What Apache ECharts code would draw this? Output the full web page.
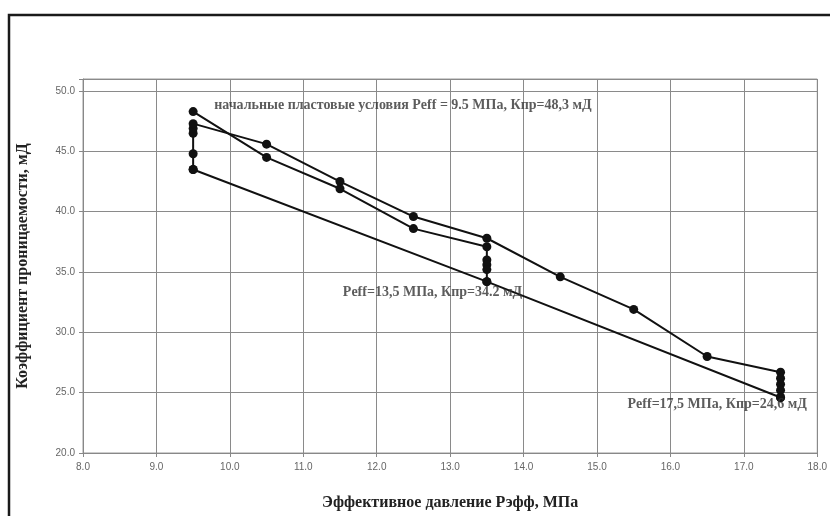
<!DOCTYPE html>
<html>
<head>
<meta charset="utf-8">
<script src="https://cdn.jsdelivr.net/npm/echarts@6/dist/echarts.min.js"></script>
<style>
  html, body { margin: 0; padding: 0; background: #fff; }
  #chart { width: 830px; height: 516px; }
</style>
</head>
<body>
<div id="chart"></div>
<script>
// Эффективное давление, МПа и проницаемость, мД по ветвям испытания
const pressureLoad1 = [9.5, 10.5, 11.5, 12.5, 13.5, 13.5, 13.5, 13.5, 13.5];
const permLoad1     = [48.3, 44.5, 41.9, 38.6, 37.1, 36.0, 35.6, 35.2, 34.2];

const pressureLoad2 = [9.5, 9.5, 9.5, 9.5, 9.5, 10.5, 11.5, 12.5, 13.5, 14.5, 15.5, 16.5, 17.5, 17.5, 17.5, 17.5, 17.5];
const permLoad2     = [43.5, 44.8, 46.5, 46.9, 47.3, 45.6, 42.5, 39.6, 37.8, 34.6, 31.9, 28.0, 26.7, 26.2, 25.7, 25.2, 24.6];

const pressureUnload = [17.5, 13.5, 9.5];
const permUnload     = [24.6, 34.2, 43.5];

// Подписи характерных точек
const notePressure = [9.5, 13.5, 17.5];
const notePerm     = [48.3, 34.2, 24.6];
const noteText = [
  'начальные пластовые условия Peff = 9.5 МПа, Кпр=48,3 мД',
  'Peff=13,5 МПа, Кпр=34.2 мД',
  'Peff=17,5 МПа, Кпр=24,6 мД'
];
const noteOffset = [[21, -6], [-144, 11], [-153, 7]];

const xTicks = { min: 8, max: 18, step: 1 };
const yTicks = { min: 20, max: 51, step: 5 };

const pairs = (xs, ys) => xs.map((x, i) => [x, ys[i]]);

const serif = '"Liberation Serif", "Times New Roman", serif';
const sans = '"Liberation Sans", Arial, sans-serif';

const lineSeries = (name, xs, ys) => ({
  name,
  type: 'line',
  data: pairs(xs, ys),
  symbol: 'circle',
  symbolSize: 9,
  lineStyle: { color: '#111', width: 2 },
  itemStyle: { color: '#111' },
  animation: false,
  z: 3
});

const chart = echarts.init(document.getElementById('chart'), null, { renderer: 'canvas' });

chart.setOption({
  backgroundColor: '#fff',
  animation: false,
  grid: { left: 83, right: 10, top: 79, bottom: 63, show: true, borderColor: '#9a9a9a', borderWidth: 1, backgroundColor: '#fff' },
  graphic: [{
    type: 'rect',
    shape: { x: 9, y: 15, width: 900, height: 600 },
    style: { fill: 'none', stroke: '#1a1a1a', lineWidth: 2.5 },
    silent: true,
    z: 10
  }],
  xAxis: {
    type: 'value',
    min: xTicks.min, max: xTicks.max, interval: xTicks.step,
    name: 'Эффективное давление Рэфф, МПа',
    nameLocation: 'middle',
    nameGap: 42,
    nameTextStyle: { fontFamily: serif, fontWeight: 'bold', fontSize: 16, color: '#222' },
    axisLine: { show: true, lineStyle: { color: '#888', width: 1 } },
    axisTick: { show: true, length: 4, lineStyle: { color: '#888' } },
    axisLabel: { color: '#666', fontFamily: sans, fontSize: 10, margin: 9, formatter: v => v.toFixed(1) },
    splitLine: { show: true, lineStyle: { color: '#8a8a8a', width: 1 } }
  },
  yAxis: {
    type: 'value',
    min: yTicks.min, max: yTicks.max, interval: yTicks.step,
    name: 'Коэффициент проницаемости, мД',
    nameLocation: 'middle',
    nameGap: 52,
    nameTextStyle: { fontFamily: serif, fontWeight: 'bold', fontSize: 16, color: '#222' },
    axisLine: { show: true, lineStyle: { color: '#888', width: 1 } },
    axisTick: { show: true, length: 4, lineStyle: { color: '#888' } },
    axisLabel: {
      color: '#666', fontFamily: sans, fontSize: 10, margin: 8,
      formatter: v => (Math.abs(v % yTicks.step) < 1e-9 ? v.toFixed(1) : '')
    },
    splitLine: { show: true, lineStyle: { color: '#8a8a8a', width: 1 } }
  },
  series: [
    lineSeries('Нагружение 1', pressureLoad1, permLoad1),
    lineSeries('Нагружение 2', pressureLoad2, permLoad2),
    lineSeries('Разгрузка', pressureUnload, permUnload),
    {
      name: 'Подписи',
      type: 'scatter',
      symbolSize: 0,
      silent: true,
      animation: false,
      z: 5,
      data: pairs(notePressure, notePerm).map((p, i) => ({
        value: p,
        label: {
          show: true,
          position: noteOffset[i],
          align: 'left',
          verticalAlign: 'middle',
          formatter: noteText[i],
          fontFamily: serif,
          fontWeight: 'bold',
          fontSize: 14,
          color: '#333'
        }
      }))
    }
  ]
});
</script>
</body>
</html>
